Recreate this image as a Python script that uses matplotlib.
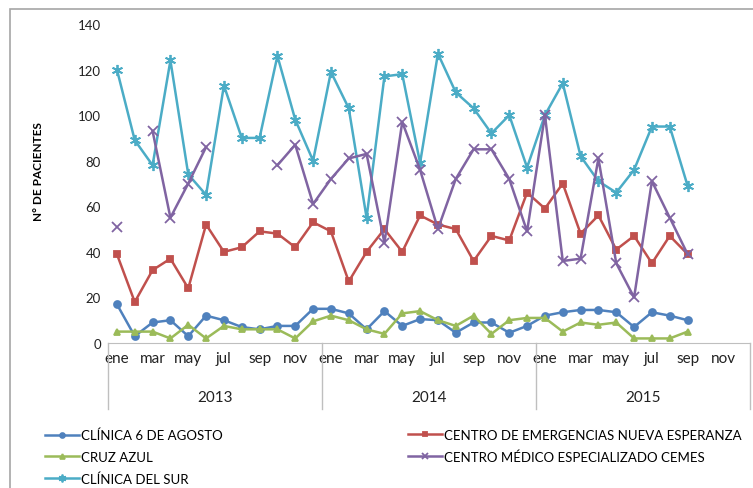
import numpy as np
import matplotlib.pyplot as plt
from matplotlib.patches import Rectangle

plt.rcParams['font.family'] = ['Lato', 'DejaVu Sans']

# months ene 2013 .. dic 2015, data up to sep 2015
month_labels = ['ene', 'mar', 'may', 'jul', 'sep', 'nov']
years = ['2013', '2014', '2015']
n_months = 36

clinica_6_agosto = [17, 3, 9, 10, 3, 12, 10, 7, 6, 7.5, 7.5, 15,
                    15, 13, 6, 14, 7.5, 10.5, 10, 4.5, 9, 9, 4.5, 7.5,
                    12, 13.5, 14.5, 14.5, 13.5, 7, 13.5, 12, 10]
nueva_esperanza = [39, 18, 32, 37, 24, 52, 40, 42, 49, 48, 42, 53,
                   49, 27, 40, 50, 40, 56, 52, 50, 36, 47, 45, 66,
                   59, 70, 48, 56, 41, 47, 35, 47, 39]
cruz_azul = [5, 5, 5, 2, 8, 2, 7.5, 6, 6, 6, 2, 9.5,
             12, 10, 6, 4, 13, 14, 10, 7.5, 12, 4, 10, 11,
             11, 5, 9, 8, 9, 2, 2, 2, 5]
cemes = [51, np.nan, 93, 55, 70, 86, np.nan, np.nan, np.nan, 78, 87, 61,
         72, 81, 83, 44, 97, 76, 50, 72, 85, 85, 72, 49,
         100, 36, 37, 81, 35, 20, 71, 55, 39]
clinica_sur = [120, 89, 78, 124, 74, 65, 113, 90, 90, 126, 98, 80,
               119, 103, 55, 117, 118, 79, 127, 110, 103, 92, 100, 77,
               100, 114, 82, 71, 66, 76, 95, 95, 69]

series = [
    ('CLÍNICA 6 DE AGOSTO', clinica_6_agosto, '#4F81BD', 'o', 5),
    ('CRUZ AZUL', cruz_azul, '#9BBB59', '^', 5),
    ('CLÍNICA DEL SUR', clinica_sur, '#4BACC6', (6, 2, 0), 8),
    ('CENTRO DE EMERGENCIAS NUEVA ESPERANZA', nueva_esperanza, '#C0504D', 's', 5),
    ('CENTRO MÉDICO ESPECIALIZADO CEMES', cemes, '#8064A2', 'x', 7),
]

fig = plt.figure(figsize=(7.53, 4.89), dpi=100)
ax = fig.add_axes([108 / 753, 1 - 344 / 489, 642 / 753, 319 / 489])

lines = []
for name, vals, col, mk, ms in series:
    x = np.arange(len(vals))
    ln, = ax.plot(x, vals, color=col, lw=1.8, marker=mk, ms=ms, mew=1.3,
                  label=name, clip_on=False)
    lines.append(ln)

ax.set_xlim(-0.5, n_months - 0.5)
ax.set_ylim(0, 140)
ax.set_yticks(range(0, 141, 20))
ax.tick_params(axis='y', length=0, labelsize=9.5, pad=5, colors='#222222')
ax.set_xticks(range(0, n_months, 2))
ax.set_xticklabels(month_labels * 3, fontsize=11, color='#222222')
ax.tick_params(axis='x', length=0, pad=6)
for s in ['top', 'right', 'left']:
    ax.spines[s].set_visible(False)
ax.spines['bottom'].set_color('#BFBFBF')

ax.set_ylabel('N° DE PACIENTES', fontsize=8.5, fontweight='bold')
ax.yaxis.set_label_coords(-0.1, 0.54)

# year row and separators
trans = ax.get_xaxis_transform()
for k, yr in enumerate(years):
    ax.text(12 * k + 5.5, -0.17, yr, transform=trans, ha='center', va='center',
            fontsize=11, color='#222222')
for b in [-0.5, 11.5, 23.5, 35.5]:
    ax.plot([b, b], [0, -0.207], transform=trans, color='#BFBFBF', lw=1,
            clip_on=False)

leg_kw = dict(loc='upper left', frameon=False, fontsize=9.5, handlelength=2.6,
              handletextpad=0.15, labelspacing=0.72, markerscale=0.7,
              borderpad=0.0, borderaxespad=0.0)
leg1 = fig.legend(handles=lines[:3], bbox_to_anchor=(45 / 753, 1 - 430 / 489),
                  **leg_kw)
leg2 = fig.legend(handles=lines[3:], bbox_to_anchor=(408 / 753, 1 - 430 / 489),
                  **leg_kw)

fig.patches.append(Rectangle((10 / 753, -0.1), 1.2, 1.1 + (479 / 489) - 1,
                             transform=fig.transFigure, fill=False,
                             edgecolor='#A6A6A6', lw=1.2))

fig.savefig('out.png', dpi=100)
